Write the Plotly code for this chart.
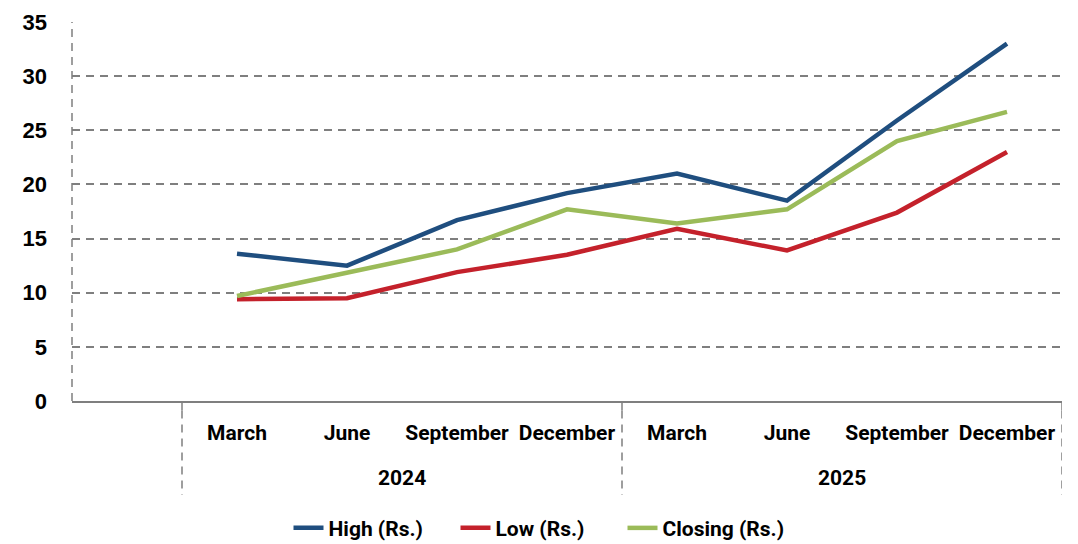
import plotly.graph_objects as go

# Quarterly share price (Rs.), FY 2024 - 2025
years = ["2024", "2024", "2024", "2024", "2025", "2025", "2025", "2025"]
months = ["March", "June", "September", "December",
          "March", "June", "September", "December"]
high = [13.6, 12.5, 16.7, 19.2, 21.0, 18.5, 25.9, 33.0]
low = [9.4, 9.5, 11.9, 13.5, 15.9, 13.9, 17.4, 23.0]
closing = [9.7, 11.9, 14.0, 17.7, 16.4, 17.7, 24.0, 26.7]
y_ticks = [0, 5, 10, 15, 20, 25, 30, 35]

# one empty slot before the first quarter, then one slot per quarter
slots = list(range(1, len(months) + 1))

label_font = "Roboto, Liberation Sans, sans-serif"
grey = "#7f7f7f"

fig = go.Figure()
series = [("High (Rs.)", high, "#1f4e7f"),
          ("Low (Rs.)", low, "#c4212b"),
          ("Closing (Rs.)", closing, "#9bbb59")]
for name, vals, col in series:
    fig.add_trace(go.Scatter(
        x=slots, y=vals, name=name, mode="lines",
        line=dict(color=col, width=4.5),
        hoverinfo="skip",
    ))

fig.update_layout(
    width=1078, height=544,
    margin=dict(l=72, r=16, t=22, b=143, autoexpand=False),
    paper_bgcolor="white", plot_bgcolor="white",
    showlegend=True,
    legend=dict(orientation="h", x=0.5, xanchor="center", xref="container",
                y=0.029, yanchor="middle", yref="container",
                font=dict(family=label_font, size=21, color="black", weight="bold"),
                entrywidth=122, tracegroupgap=0, bgcolor="rgba(0,0,0,0)"),
    xaxis=dict(
        range=[-0.5, 8.5], tickmode="array", tickvals=slots, ticktext=months,
        showgrid=False, zeroline=False, ticks="", tickangle=0,
        automargin=False,
        showline=True, linecolor=grey, linewidth=1.5,
        tickfont=dict(family=label_font, size=21, color="black", weight="bold"),
        ticklabelstandoff=12,
    ),
    yaxis=dict(
        range=[0, 35], tickmode="array", tickvals=y_ticks,
        showgrid=True, gridcolor=grey, gridwidth=1.5, griddash="8px,6px",
        zeroline=False, showline=False, ticks="", automargin=False,
        tickfont=dict(family="Liberation Sans, Arial, sans-serif", size=22,
                      color="black", weight="bold"),
        ticklabelstandoff=24,
    ),
)

# dashed y-axis line
fig.add_shape(type="line", xref="paper", yref="paper", x0=0, x1=0, y0=0, y1=1,
              line=dict(color=grey, width=1.5, dash="8px,6px"))

# year group dividers below the axis
for xv in [0.5, 4.5, 8.5]:
    fig.add_shape(type="line", xref="x", yref="paper", x0=xv, x1=xv,
                  y0=0, y1=-0.025, line=dict(color=grey, width=1.5))
    fig.add_shape(type="line", xref="x", yref="paper", x0=xv, x1=xv,
                  y0=-0.025, y1=-0.248,
                  line=dict(color=grey, width=1.5, dash="8px,6px"))

# year labels centred under each group of quarters
for yr in sorted(set(years)):
    idx = [s for s, y in zip(slots, years) if y == yr]
    fig.add_annotation(x=sum(idx) / len(idx), xref="x", y=-0.203, yref="paper",
                       text=yr, showarrow=False, yanchor="middle",
                       font=dict(family=label_font, size=21, color="black",
                                 weight="bold"))

fig.write_html("out.html")
